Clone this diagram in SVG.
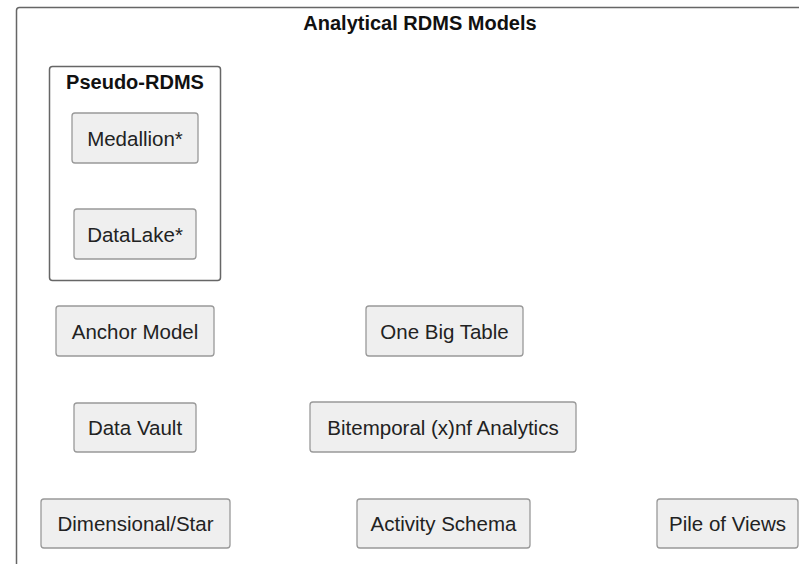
<svg xmlns="http://www.w3.org/2000/svg" width="799" height="564" viewBox="0 0 799 564">
<style>
  .cluster { fill: #ffffff; stroke: #666666; stroke-width: 1.5; }
  .node rect { fill: #efefef; stroke: #999999; stroke-width: 1.3; }
  .label { font-family: "Liberation Sans", Arial, Helvetica, sans-serif; font-size: 20.5px; fill: #222222; text-anchor: middle; }
  .title { font-family: "Liberation Sans", Arial, Helvetica, sans-serif; font-size: 20px; font-weight: bold; fill: #111111; text-anchor: middle; }
</style>
<rect width="799" height="564" fill="#ffffff"/>
<g id="cluster-analytical">
  <rect class="cluster" x="16.5" y="7.5" width="810" height="570" rx="3"/>
  <text class="title" x="420" y="30">Analytical RDMS Models</text>
</g>
<g id="cluster-pseudo">
  <rect class="cluster" x="49.5" y="66.5" width="171" height="214" rx="3"/>
  <text class="title" x="135" y="89">Pseudo-RDMS</text>
</g>
<g id="connectors"></g>
<g id="medallion" class="node">
  <rect x="72" y="113" width="126" height="50" rx="3"/>
  <text class="label" x="135" y="145.5">Medallion*</text>
</g>
<g id="datalake" class="node">
  <rect x="74" y="209" width="122" height="50" rx="3"/>
  <text class="label" x="135" y="241.5">DataLake*</text>
</g>
<g id="anchor" class="node">
  <rect x="56" y="306" width="158" height="50" rx="3"/>
  <text class="label" x="135" y="338.5">Anchor Model</text>
</g>
<g id="onebigtable" class="node">
  <rect x="366" y="306" width="157" height="50" rx="3"/>
  <text class="label" x="444.5" y="338.5">One Big Table</text>
</g>
<g id="datavault" class="node">
  <rect x="74" y="403" width="122" height="49" rx="3"/>
  <text class="label" x="135" y="435">Data Vault</text>
</g>
<g id="bitemporal" class="node">
  <rect x="310" y="402" width="266" height="50" rx="3"/>
  <text class="label" x="443" y="434.5">Bitemporal (x)nf Analytics</text>
</g>
<g id="dimensional" class="node">
  <rect x="41" y="499" width="189" height="49" rx="3"/>
  <text class="label" x="135.5" y="531">Dimensional/Star</text>
</g>
<g id="activity" class="node">
  <rect x="357" y="499" width="173" height="49" rx="3"/>
  <text class="label" x="443.5" y="531">Activity Schema</text>
</g>
<g id="pileofviews" class="node">
  <rect x="657" y="499" width="141" height="49" rx="3"/>
  <text class="label" x="727.5" y="531">Pile of Views</text>
</g>
</svg>
